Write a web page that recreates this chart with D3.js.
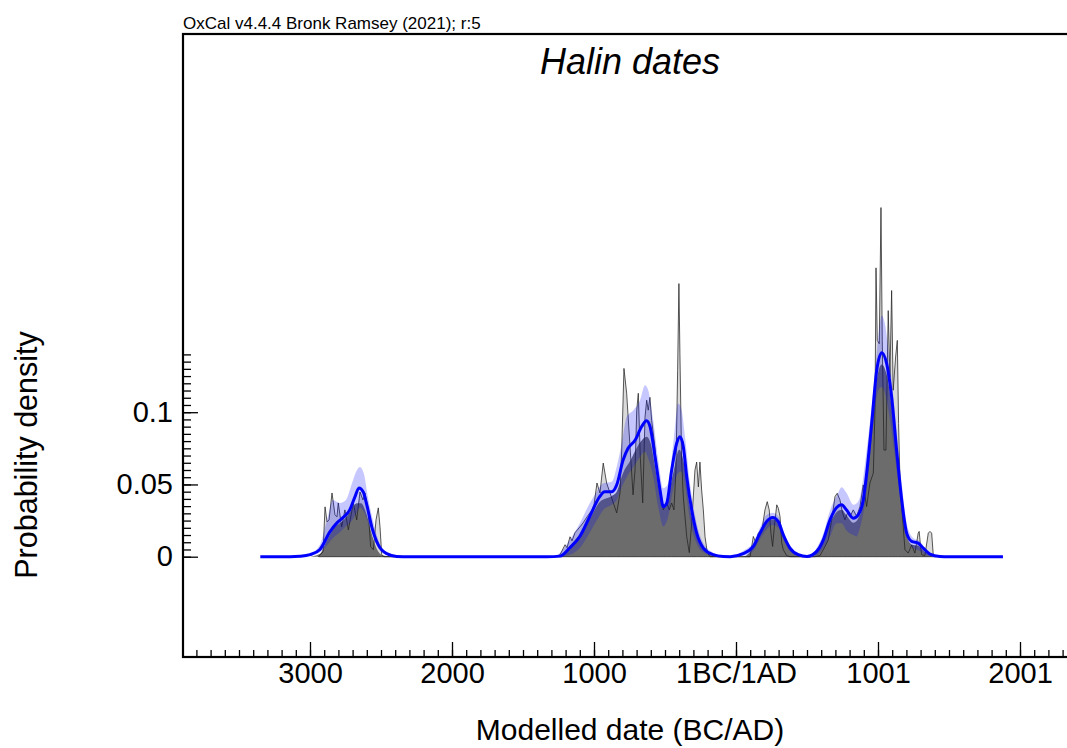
<!DOCTYPE html>
<html>
<head>
<meta charset="utf-8">
<script src="https://cdn.jsdelivr.net/npm/d3@7"></script>
<style>
body { margin: 0; background: #fff; }
svg text { font-family: "Liberation Sans", Arial, Helvetica, sans-serif; fill: #000; }
</style>
</head>
<body>
<div id="vis"></div>
<script>

// summed probability of the unmodelled dates (spiky black outline) [year, density]
var sumDates = [
	[-2940,0],[-2908,0.0034],[-2894,0.0345],[-2880,0.0241],[-2866,0.0255],[-2845,0.0441],[-2824,0.029],[-2810,0.0276],
	[-2801,0.0372],[-2777,0.0207],[-2754,0.0324],[-2730,0.0186],[-2695,0.0372],[-2671,0.0255],[-2648,0.0448],[-2627,0.0393],
	[-2613,0.0441],[-2590,0.0324],[-2573,0.0069],[-2554,0.0048],[-2535,0.0255],[-2519,0.0338],[-2507,0.0207],[-2495,0.0014],[-2479,0],
	[-1268,0],[-1239,0.0014],[-1204,0.0083],[-1190,0.0062],[-1169,0.0138],[-1155,0.011],[-1134,0.0166],[-1099,0.0207],
	[-1077,0.0234],[-1049,0.0276],[-1014,0.0324],[-1000,0.0359],[-979,0.051],[-958,0.0441],[-935,0.0648],[-911,0.051],
	[-887,0.0441],[-864,0.0372],[-840,0.0303],[-817,0.0441],[-805,0.0738],[-789,0.1303],[-770,0.1131],[-747,0.0772],
	[-725,0.0428],[-711,0.06],[-699,0.1014],[-688,0.1131],[-674,0.069],[-657,0.0372],[-641,0.0963],[-629,0.1083],
	[-618,0.1014],[-606,0.1103],[-594,0.0945],[-571,0.0759],[-559,0.06],[-540,0.0462],[-523,0.0372],[-512,0.0324],
	[-488,0.0372],[-470,0.0324],[-453,0.0372],[-437,0.0324],[-423,0.06],[-411,0.129],[-402,0.189],[-395,0.1407],
	[-383,0.0669],[-371,0.0414],[-347,0.0138],[-329,0.0028],[-312,0.0234],[-289,0.06],[-277,0.0655],[-265,0.0483],
	[-254,0.0655],[-242,0.0462],[-230,0.0324],[-218,0.0138],[-202,0.0028],[-183,0],
	[99,0],[122,0.014],[141,0.0094],[157,0.0163],[183,0.0186],[204,0.0324],[220,0.0381],[234,0.0324],[246,0.0163],
	[258,0.0071],[270,0.0209],[287,0.0359],[298,0.0336],[310,0.0278],[322,0.0094],[333,0.0048],[357,0.0007],[380,0],
	[556,0],[591,0.0007],[627,0.0071],[650,0.0117],[674,0.0255],[697,0.0416],[713,0.0439],[732,0.0393],[751,0.0301],
	[767,0.0255],[784,0.0301],[803,0.0278],[826,0.0324],[850,0.028],[873,0.0347],[896,0.0497],[920,0.0347],[943,0.051],
	[967,0.0579],[979,0.103],[986,0.1999],[995,0.1497],[1009,0.1474],[1021,0.2416],[1030,0.1497],[1042,0.0738],
	[1056,0.0738],[1072,0.1703],[1084,0.1243],[1096,0.1842],[1107,0.1152],[1124,0.1382],[1136,0.1497],[1145,0.0922],
	[1155,0.051],[1167,0.0347],[1190,0.0048],[1213,0.0025],[1237,0.008],[1260,0.0025],[1283,0.0163],[1290,0.0175],
	[1299,0.008],[1307,0.0014],[1330,0.0007],[1354,0.0163],[1366,0.0175],[1378,0.0163],[1389,0.0014],[1408,0]
];

// KDE model distribution (dark grey)
var kdeGrey = [
	[-3000,0],[-2930,0.002],[-2882,0.011],[-2836,0.019],[-2766,0.025],[-2718,0.031],[-2671,0.037],[-2640,0.037],
	[-2601,0.029],[-2566,0.016],[-2530,0.0055],[-2484,0.0008],[-2420,0],
	[-1300,0],[-1239,0.0005],[-1192,0.0052],[-1075,0.019],[-1030,0.026],[-958,0.038],[-875,0.042],[-840,0.045],
	[-795,0.058],[-747,0.066],[-676,0.079],[-629,0.083],[-600,0.078],[-570,0.062],[-535,0.042],[-512,0.035],
	[-488,0.038],[-442,0.058],[-400,0.074],[-365,0.064],[-324,0.034],[-277,0.0145],[-230,0.005],[-160,0.0008],[-110,0],
	[50,0],[122,0.0065],[169,0.0155],[216,0.023],[258,0.026],[298,0.0235],[333,0.0145],[380,0.0055],[439,0.001],[480,0],
	[540,0],[568,0.0032],[615,0.0105],[662,0.023],[709,0.031],[744,0.0325],[779,0.0285],[826,0.0235],[861,0.0265],
	[896,0.037],[920,0.055],[955,0.088],[991,0.122],[1026,0.133],[1061,0.126],[1096,0.104],[1131,0.069],[1167,0.036],
	[1202,0.0145],[1237,0.0085],[1283,0.0075],[1319,0.0045],[1366,0.0012],[1436,0]
];

// KDE mean (blue line)
var kdeMean = [
	[-3350,0],[-3140,0],[-3070,0.0003],[-3000,0.0014],[-2930,0.005],[-2860,0.0172],[-2810,0.0234],[-2770,0.0269],
	[-2720,0.0324],[-2685,0.041],[-2655,0.0476],[-2625,0.0448],[-2600,0.0359],[-2565,0.0207],[-2520,0.0083],
	[-2460,0.0021],[-2390,0.0002],[-2300,0],
	[-1330,0],[-1240,0.0004],[-1170,0.0062],[-1100,0.014],[-1030,0.0278],[-960,0.0416],[-925,0.045],[-875,0.045],
	[-840,0.0497],[-795,0.0669],[-760,0.075],[-710,0.0807],[-665,0.0899],[-630,0.094],[-605,0.0899],[-570,0.0692],
	[-535,0.0462],[-512,0.0347],[-488,0.037],[-453,0.06],[-418,0.0784],[-395,0.083],[-371,0.0761],[-347,0.0554],
	[-312,0.0324],[-277,0.0163],[-230,0.006],[-160,0.0014],[-90,0.0001],
	[-40,0],[50,0.0021],[122,0.0071],[169,0.0163],[216,0.0243],[258,0.0271],[298,0.0243],[333,0.0152],[380,0.006],
	[439,0.0014],[500,0.0002],[568,0.0037],[615,0.0117],[662,0.0255],[709,0.034],[744,0.0359],[779,0.0323],[826,0.0266],
	[861,0.029],[896,0.0393],[920,0.0576],[955,0.0917],[991,0.129],[1026,0.1412],[1061,0.1336],[1096,0.1106],
	[1131,0.0738],[1167,0.0393],[1202,0.0163],[1237,0.0106],[1283,0.0094],[1319,0.0059],[1366,0.0018],[1436,0.0002],
	[1500,0],[1880,0]
];

// KDE 1 sigma range (light blue) [year, low, high]
var kdeBand = [
	[-3100,0,0.0002],[-3000,0.0005,0.002],[-2930,0.003,0.0083],[-2880,0.008,0.0255],[-2838,0.013,0.0393],
	[-2790,0.017,0.0372],[-2747,0.021,0.0393],[-2704,0.025,0.051],[-2669,0.031,0.06],[-2648,0.034,0.062],
	[-2620,0.031,0.0572],[-2592,0.024,0.0414],[-2549,0.012,0.0221],[-2507,0.004,0.0083],[-2451,0.001,0.0021],
	[-2388,0,0.0002],[-2300,0,0],
	[-1300,0,0],[-1240,0.0002,0.0026],[-1170,0.0014,0.0117],[-1100,0.006,0.0232],[-1030,0.0166,0.037],
	[-981,0.025,0.045],[-935,0.0324,0.0508],[-875,0.036,0.0519],[-840,0.0393,0.0623],[-805,0.048,0.0784],
	[-770,0.055,0.0968],[-723,0.062,0.1014],[-676,0.069,0.1083],[-641,0.0726,0.1186],[-618,0.068,0.1152],
	[-583,0.0554,0.0945],[-547,0.034,0.0669],[-512,0.0209,0.0474],[-477,0.0278,0.0508],[-442,0.047,0.0784],
	[-407,0.058,0.106],[-383,0.059,0.1014],[-359,0.0485,0.083],[-324,0.025,0.0508],[-277,0.009,0.0232],
	[-230,0.003,0.0094],[-159,0.0005,0.0026],[-90,0,0.0002],[-40,0,0],
	[50,0.0005,0.004],[122,0.004,0.01],[169,0.012,0.02],[216,0.019,0.029],[258,0.022,0.0305],[298,0.02,0.028],
	[333,0.012,0.018],[380,0.004,0.008],[439,0.001,0.002],[500,0,0.0005],[568,0.001,0.006],[615,0.006,0.016],
	[662,0.014,0.032],[709,0.0232,0.042],[744,0.0232,0.048],[779,0.018,0.044],[826,0.015,0.0359],[850,0.014,0.037],
	[873,0.02,0.0414],[920,0.045,0.0738],[967,0.0921,0.1152],[1002,0.1152,0.1518],[1026,0.1175,0.1669],
	[1049,0.113,0.1611],[1084,0.095,0.1336],[1131,0.06,0.0876],[1167,0.035,0.0508],[1202,0.014,0.0232],
	[1248,0.006,0.0129],[1295,0.004,0.0106],[1342,0.001,0.0048],[1408,0,0.0007],[1450,0,0]
];

var xTicks = [-3000, -2000, -1000, 0, 1000, 2000];
var xTickLabels = ["3000", "2000", "1000", "1BC/1AD", "1001", "2001"];
var yTicks = [0, 0.05, 0.1];
var yTickLabels = ["0", "0.05", "0.1"];

var headerText = "OxCal v4.4.4 Bronk Ramsey (2021); r:5";
var titleText = "Halin dates";
var xTitle = "Modelled date (BC/AD)";
var yTitle = "Probability density";

var w = 1067, h = 748;
var frame = {left: 183, top: 34, right: 1077, bottom: 657};

var svg = d3.select("#vis").append("svg")
.attr("width", w)
.attr("height", h);

var x = d3.scaleLinear()
.domain([-3900, 2400])
.range([182.2, 1076.8]);

var y = d3.scaleLinear()
.domain([0, 0.1])
.range([556.7, 412.2]);

svg.append("clipPath")
.attr("id", "plotclip")
.append("rect")
.attr("x", frame.left)
.attr("y", frame.top)
.attr("width", frame.right - frame.left)
.attr("height", frame.bottom - frame.top);

var plot = svg.append("g")
.attr("clip-path", "url(#plotclip)");

var sumArea = d3.area()
.x(function (d) { return x(d[0]); })
.y0(y(0))
.y1(function (d) { return y(d[1]); });

// light grey sum first, dark grey model on top, then the outline
plot.append("path")
.datum(sumDates)
.attr("d", sumArea)
.attr("fill", "#dadada");

plot.append("path")
.datum(kdeGrey)
.attr("d", d3.area()
	.x(function (d) { return x(d[0]); })
	.y0(y(0))
	.y1(function (d) { return y(d[1]); })
	.curve(d3.curveMonotoneX))
.attr("fill", "#6c6c6c");

plot.append("path")
.datum(sumDates)
.attr("d", sumArea)
.attr("fill", "none")
.attr("stroke", "#222")
.attr("stroke-width", 0.75)
.attr("stroke-linejoin", "round");

plot.append("path")
.datum(kdeBand)
.attr("d", d3.area()
	.x(function (d) { return x(d[0]); })
	.y0(function (d) { return y(d[1]); })
	.y1(function (d) { return y(d[2]); })
	.curve(d3.curveMonotoneX))
.attr("fill", "#0000ff")
.attr("fill-opacity", 0.22);

plot.append("path")
.datum(kdeMean)
.attr("d", d3.line()
	.x(function (d) { return x(d[0]); })
	.y(function (d) { return y(d[1]); })
	.curve(d3.curveMonotoneX))
.attr("fill", "none")
.attr("stroke", "#0000ff")
.attr("stroke-width", 3)
.attr("stroke-linejoin", "round");

// frame
svg.append("rect")
.attr("x", frame.left)
.attr("y", frame.top)
.attr("width", frame.right - frame.left)
.attr("height", frame.bottom - frame.top)
.attr("fill", "none")
.attr("stroke", "#000")
.attr("stroke-width", 2.2);

// x axis: minor every century, majors every millennium, ticks pointing up
var xMinor = svg.append("g")
.attr("transform", "translate(0," + frame.bottom + ")")
.call(d3.axisBottom(x)
	.tickValues(d3.range(-3900, 2401, 100))
	.tickSize(-7)
	.tickSizeOuter(0)
	.tickFormat(""));

var xAxis = svg.append("g")
.attr("transform", "translate(0," + frame.bottom + ")")
.call(d3.axisBottom(x)
	.tickValues(xTicks)
	.tickSize(-15)
	.tickSizeOuter(0)
	.tickPadding(5)
	.tickFormat(function (d, i) { return xTickLabels[i]; }));

var yMinor = svg.append("g")
.attr("transform", "translate(" + frame.left + ",0)")
.call(d3.axisLeft(y)
	.tickValues(d3.range(0, 0.1401, 0.005))
	.tickSize(-8)
	.tickSizeOuter(0)
	.tickFormat(""));

var yAxis = svg.append("g")
.attr("transform", "translate(" + frame.left + ",0)")
.call(d3.axisLeft(y)
	.tickValues(yTicks)
	.tickSize(-15)
	.tickSizeOuter(0)
	.tickPadding(10)
	.tickFormat(function (d, i) { return yTickLabels[i]; }));

[xMinor, xAxis, yMinor, yAxis].forEach(function (g) {
	g.select(".domain").remove();
	g.selectAll(".tick line")
	.attr("stroke", "#000")
	.attr("stroke-width", 1.3);
	g.selectAll(".tick text")
	.attr("font-family", "'Liberation Sans', Arial, sans-serif")
	.attr("font-size", 29)
	.attr("fill", "#000");
});

svg.append("text")
.attr("x", frame.left)
.attr("y", 29)
.attr("font-size", 17)
.text(headerText);

svg.append("text")
.attr("x", (frame.left + frame.right) / 2)
.attr("y", 74)
.attr("text-anchor", "middle")
.attr("font-size", 36)
.attr("font-style", "italic")
.text(titleText);

svg.append("text")
.attr("x", (frame.left + frame.right) / 2)
.attr("y", 740)
.attr("text-anchor", "middle")
.attr("font-size", 30)
.text(xTitle);

svg.append("text")
.attr("transform", "translate(37,455) rotate(-90)")
.attr("text-anchor", "middle")
.attr("font-size", 30.5)
.text(yTitle);

</script>
</body>
</html>
